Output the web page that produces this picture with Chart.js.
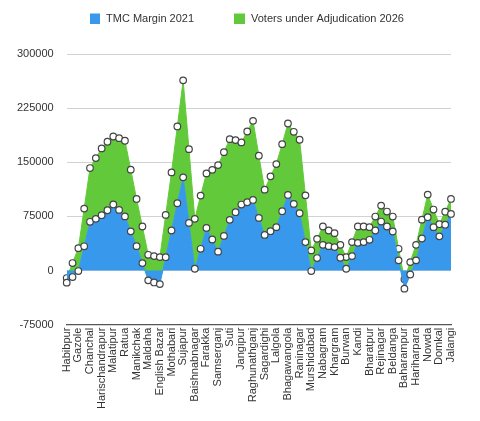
<!DOCTYPE html>
<html>
<head>
<meta charset="utf-8">
<script src="https://cdn.jsdelivr.net/npm/chart.js@4.4.1/dist/chart.umd.min.js"></script>
<style>
  html, body { margin: 0; padding: 0; background: #ffffff; }
  #wrap { width: 480px; height: 421px; position: relative; }
</style>
</head>
<body>
<div id="wrap"><canvas id="c"></canvas></div>
<script>
// Tick labels shown on the category axis (every other category carries a name)
const constituencies = [
  "Habibpur", "Gazole", "Chanchal", "Harischandrapur", "Malatipur", "Ratua",
  "Manikchak", "Maldaha", "English Bazar", "Mothabari", "Sujapur", "Baishnabnagar",
  "Farakka", "Samserganj", "Suti", "Jangipur", "Raghunathganj", "Sagardighi",
  "Lalgola", "Bhagawangola", "Raninagar", "Murshidabad", "Nabagram", "Khargram",
  "Burwan", "Kandi", "Bharatpur", "Rejinagar", "Beldanga", "Baharampur",
  "Hariharpara", "Nowda", "Domkal", "Jalangi"
];

// Series values (67 categories)
const tmcMargin2021 = [
  -16800, -9000, -700, 33600, 67500, 71600, 76700, 83500, 91600, 84000,
  75000, 54300, 33800, 10300, -13600, -16500, -18800, 18500, 55500, 93200,
  129100, 66000, 2500, 30100, 59100, 43000, 26200, 48000, 70200, 80800,
  91400, 94600, 97800, 72900, 49400, 54500, 60100, 82200, 104700, 92300,
  79400, 39400, -700, 17300, 35600, 33800, 32500, 17700, 2500, 20000,
  38400, 39400, 42600, 55500, 67900, 61000, 54100, 14100, -25100, -5500,
  14100, 44400, 73900, 60100, 47400, 63500, 78400
];

const votersUnderAdjudication2026 = [
  6400, 19400, 31700, 52200, 74500, 84200, 92500, 94900, 94100, 99400,
  104800, 85500, 65400, 50700, 35400, 36500, 37400, 58600, 80500, 106400,
  134400, 102200, 69100, 73700, 75500, 96500, 119900, 116000, 111800, 99900,
  86100, 98000, 109600, 86200, 62700, 76000, 87400, 92900, 99000, 99900,
  101800, 64800, 28600, 26600, 25400, 21700, 19300, 17900, 16100, 19400,
  22600, 21600, 17500, 19300, 22100, 20700, 20700, 16000, 12900, 17200,
  21500, 26100, 31300, 24400, 16800, 18000, 20800
];

const yTicks = [-75000, 0, 75000, 150000, 225000, 300000];

// Category labels: names at even positions, blank in between
const categories = [];
constituencies.forEach((n, k) => {
  categories.push(n);
  if (k < constituencies.length - 1) categories.push("");
});

const BLUE = "#3798ec";
const GREEN = "#62ca3a";
const FONT = "'Liberation Sans', Arial, Helvetica, sans-serif";

const topLegend = {
  id: "topLegend",
  afterDraw(chart) {
    const ctx = chart.ctx;
    const items = [
      { x: 90, w: 10, ds: chart.data.datasets[0] },
      { x: 234, w: 11, ds: chart.data.datasets[1] }
    ];
    ctx.save();
    ctx.font = "11px " + FONT;
    ctx.textBaseline = "middle";
    ctx.textAlign = "left";
    items.forEach(it => {
      ctx.fillStyle = it.ds.backgroundColor;
      ctx.fillRect(it.x, 13.5, it.w, 10.5);
      ctx.fillStyle = "#333333";
      ctx.fillText(it.ds.label, it.x + it.w + 6, 19);
    });
    ctx.restore();
  }
};

new Chart(document.getElementById("c"), {
  type: "line",
  data: {
    labels: categories,
    datasets: [
      {
        label: "TMC Margin 2021",
        data: tmcMargin2021,
        backgroundColor: BLUE,
        borderColor: BLUE,
        borderWidth: 1,
        fill: "origin",
        tension: 0,
        pointRadius: 3.3,
        pointBorderWidth: 1.2,
        pointBackgroundColor: "#ffffff",
        pointBorderColor: "#444444"
      },
      {
        label: "Voters under Adjudication 2026",
        data: votersUnderAdjudication2026,
        backgroundColor: GREEN,
        borderColor: GREEN,
        borderWidth: 1,
        fill: "-1",
        tension: 0,
        pointRadius: 3.3,
        pointBorderWidth: 1.2,
        pointBackgroundColor: "#ffffff",
        pointBorderColor: "#444444"
      }
    ]
  },
  options: {
    responsive: true,
    maintainAspectRatio: false,
    animation: false,
    layout: { padding: { top: 54, left: 4, right: 29, bottom: 9 } },
    plugins: {
      legend: { display: false },
      tooltip: { enabled: false }
    },
    scales: {
      x: {
        grid: { display: false, drawTicks: false },
        border: { display: true, color: "#555555", width: 1.2 },
        ticks: {
          autoSkip: false,
          minRotation: 90,
          maxRotation: 90,
          padding: 3,
          color: "#333333",
          font: { size: 11, family: FONT }
        }
      },
      y: {
        stacked: "single",
        min: yTicks[0],
        max: yTicks[yTicks.length - 1],
        afterBuildTicks(scale) {
          scale.ticks = yTicks.map(v => ({ value: v }));
        },
        grid: { color: "#d2d2d2", lineWidth: 1, drawTicks: false },
        border: { display: false },
        ticks: {
          padding: 13,
          color: "#333333",
          font: { size: 11, family: FONT },
          callback: v => String(v)
        }
      }
    }
  },
  plugins: [topLegend]
});
</script>
</body>
</html>
